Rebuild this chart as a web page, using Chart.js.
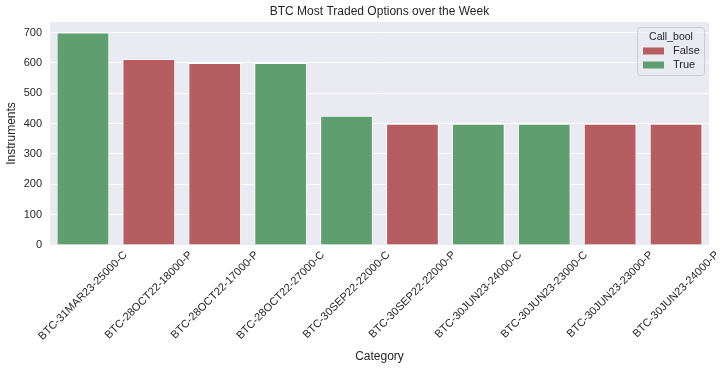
<!DOCTYPE html>
<html>
<head>
<meta charset="utf-8">
<script src="https://cdn.jsdelivr.net/npm/chart.js@4"></script>
<style>
  html, body { margin: 0; padding: 0; background: #fff; }
  #wrap { width: 728px; height: 368px; }
</style>
</head>
<body>
<div id="wrap"><canvas id="chart" width="728" height="368"></canvas></div>
<script>
// Data
const categories = [
    'BTC-31MAR23-25000-C', 'BTC-28OCT22-18000-P', 'BTC-28OCT22-17000-P',
    'BTC-28OCT22-27000-C', 'BTC-30SEP22-22000-C', 'BTC-30SEP22-22000-P',
    'BTC-30JUN23-24000-C', 'BTC-30JUN23-23000-C', 'BTC-30JUN23-23000-P',
    'BTC-30JUN23-24000-P'
];
const instruments = [700, 613, 600, 600, 426, 400, 400, 400, 400, 400];
const callBool = [true, false, false, true, true, false, true, true, false, false];
const yTicks = [0, 100, 200, 300, 400, 500, 600, 700];

const FONT = "'Liberation Sans', Arial, sans-serif";
const TEXT = '#262626';
const RED = '#B55D60';
const GREEN = '#5F9E6E';

const falseData = instruments.map((v, i) => callBool[i] ? null : v);
const trueData = instruments.map((v, i) => callBool[i] ? v : null);

// background of plot area + title centred over the axes
const plotBg = {
    id: 'plotBg',
    beforeDraw(chart) {
        const a = chart.chartArea, ctx = chart.ctx;
        ctx.save();
        ctx.fillStyle = '#EAEAF2';
        ctx.fillRect(a.left, a.top, a.right - a.left, a.bottom - a.top);
        ctx.fillStyle = TEXT;
        ctx.font = '12px ' + FONT;
        ctx.textAlign = 'center';
        ctx.textBaseline = 'middle';
        ctx.fillText('BTC Most Traded Options over the Week', (a.left + a.right) / 2, 12);
        ctx.restore();
    }
};

// rotated x labels, centred on the tick like matplotlib
const xLabels = {
    id: 'xLabels',
    afterDraw(chart) {
        const ctx = chart.ctx, xs = chart.scales.x, a = chart.chartArea;
        ctx.save();
        ctx.font = '11px ' + FONT;
        ctx.fillStyle = TEXT;
        ctx.textAlign = 'center';
        ctx.textBaseline = 'middle';
        const s = Math.SQRT1_2;
        categories.forEach((lab, i) => {
            const x = xs.getPixelForValue(i);
            const w = ctx.measureText(lab).width;
            const box = (w + 12) * s;
            const cy = a.bottom + 4 + box / 2;
            ctx.save();
            ctx.translate(x, cy);
            ctx.rotate(-Math.PI / 4);
            ctx.fillText(lab, 0, 0);
            ctx.restore();
        });
        ctx.restore();
    }
};

// legend box inside the plot
const boxLegend = {
    id: 'boxLegend',
    afterDraw(chart) {
        const ctx = chart.ctx, a = chart.chartArea;
        const x0 = a.right - 72, y0 = a.top + 5, w = 67, h = 48;
        ctx.save();
        ctx.fillStyle = 'rgba(234,234,242,0.8)';
        ctx.strokeStyle = '#CCCCCC';
        ctx.lineWidth = 1;
        ctx.beginPath();
        ctx.roundRect(x0 + 0.5, y0 + 0.5, w, h, 3);
        ctx.fill();
        ctx.stroke();
        ctx.fillStyle = TEXT;
        ctx.font = '10.5px ' + FONT;
        ctx.textAlign = 'center';
        ctx.textBaseline = 'middle';
        ctx.fillText('Call_bool', x0 + w / 2 + 0.5, y0 + 10);
        ctx.font = '11px ' + FONT;
        ctx.textAlign = 'left';
        chart.data.datasets.forEach((ds, i) => {
            const yy = y0 + 24 + i * 14;
            ctx.fillStyle = ds.backgroundColor;
            ctx.fillRect(x0 + 6, yy - 3.5, 21, 7);
            ctx.fillStyle = TEXT;
            ctx.fillText(ds.label, x0 + 36, yy);
        });
        ctx.restore();
    }
};

new Chart(document.getElementById('chart'), {
    type: 'bar',
    data: {
        labels: categories,
        datasets: [
            { label: 'False', data: falseData, backgroundColor: RED, borderColor: '#fff', borderWidth: 1 },
            { label: 'True', data: trueData, backgroundColor: GREEN, borderColor: '#fff', borderWidth: 1 }
        ]
    },
    options: {
        responsive: false,
        animation: false,
        layout: { padding: { left: 0, right: 19, top: 22, bottom: 0 } },
        datasets: { bar: { grouped: false, categoryPercentage: 0.8, barPercentage: 1.0, skipNull: true } },
        plugins: {
            legend: { display: false },
            tooltip: { enabled: false },
            title: { display: false }
        },
        scales: {
            x: {
                grid: { display: false },
                border: { display: false },
                ticks: { display: false },
                title: { display: true, text: 'Category', color: TEXT, font: { family: FONT, size: 12 }, padding: { top: 4, bottom: 4 } },
                afterFit: s => { s.height = 123; }
            },
            y: {
                min: 0,
                max: 735,
                grid: { color: '#FFFFFF', lineWidth: 1, drawTicks: false },
                border: { display: false },
                ticks: { color: TEXT, font: { family: FONT, size: 11 }, padding: 8, stepSize: 100 },
                afterBuildTicks: s => { s.ticks = yTicks.map(v => ({ value: v })); },
                title: { display: true, text: 'Instruments', color: TEXT, font: { family: FONT, size: 12 }, padding: { top: 4, bottom: 4 } },
                afterFit: s => { s.width = 50; }
            }
        }
    },
    plugins: [plotBg, xLabels, boxLegend]
});
</script>
</body>
</html>
